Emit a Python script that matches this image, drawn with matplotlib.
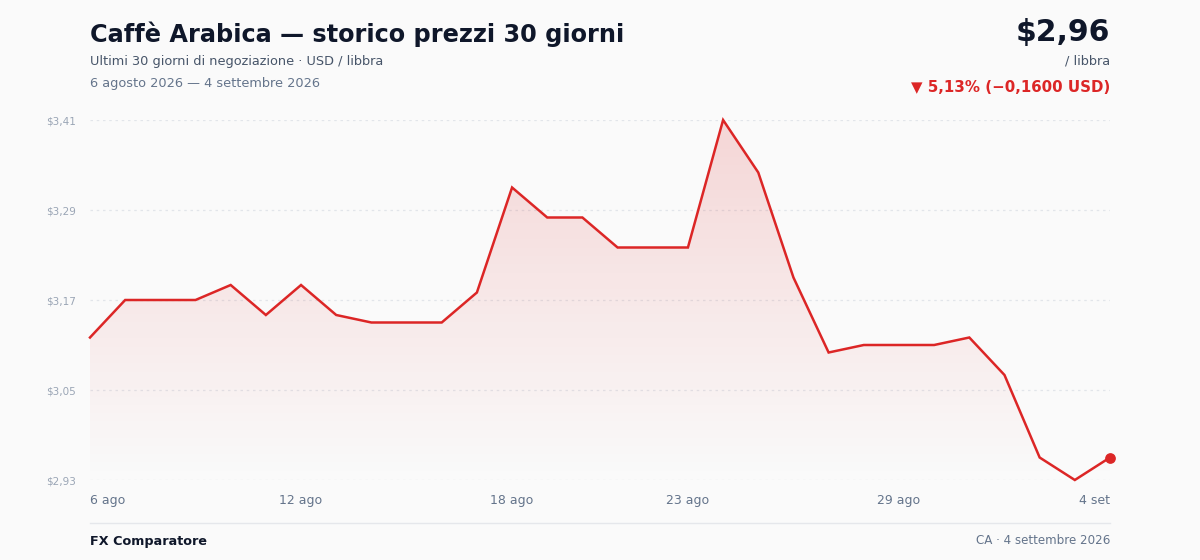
import numpy as np
import pandas as pd
import matplotlib
matplotlib.use("Agg")
import matplotlib.pyplot as plt
import matplotlib.dates as mdates
from matplotlib.patches import Polygon

plt.rcParams['font.family'] = ['DejaVu Sans']

# data
dates = pd.date_range("2026-08-06", "2026-09-04", freq="D")
prices = [3.12, 3.17, 3.17, 3.17, 3.19, 3.15, 3.19, 3.15, 3.14, 3.14,
          3.14, 3.18, 3.32, 3.28, 3.28, 3.24, 3.24, 3.24, 3.41, 3.34,
          3.20, 3.10, 3.11, 3.11, 3.11, 3.12, 3.07, 2.96, 2.93, 2.96]
y_ticks = [2.93, 3.05, 3.17, 3.29, 3.41]
x_tick_dates = ["2026-08-06", "2026-08-12", "2026-08-18", "2026-08-23", "2026-08-29", "2026-09-04"]
x_tick_labels = ["6 ago", "12 ago", "18 ago", "23 ago", "29 ago", "4 set"]

RED = "#dc2626"
BG = "#fafafa"

fig = plt.figure(figsize=(12, 5.6), dpi=100, facecolor=BG)
W, H = 1200, 560
ax = fig.add_axes([90 / W, 1 - 480 / H, 1020 / W, 360 / H])
ax.set_facecolor(BG)

x = mdates.date2num(dates)
y = np.array(prices)
ax.set_xlim(x[0], x[-1])
ax.set_ylim(y_ticks[0], y_ticks[-1])

# gradient fill under the line
grad = np.zeros((200, 2, 4))
grad[..., 0], grad[..., 1], grad[..., 2] = 0.86, 0.15, 0.15
grad[..., 3] = np.linspace(0.17, 0.0, 200)[:, None]
img = ax.imshow(grad, aspect="auto", extent=[x[0], x[-1], y_ticks[0], y_ticks[-1]],
                origin="upper", zorder=1)
poly = Polygon(np.column_stack([np.r_[x, x[-1], x[0]], np.r_[y, y_ticks[0], y_ticks[0]]]),
               closed=True, transform=ax.transData, facecolor="none", edgecolor="none")
ax.add_patch(poly)
img.set_clip_path(poly)

for t in y_ticks:
    ax.axhline(t, color="#e2e5ea", lw=0.9, ls=(0, (2, 3)), zorder=0)

ax.plot(x, y, color=RED, lw=1.8, zorder=3, clip_on=False, solid_joinstyle="miter")
ax.scatter([x[-1]], [y[-1]], s=45, color=RED, zorder=4, clip_on=False)

for s in ax.spines.values():
    s.set_visible(False)
ax.tick_params(length=0)
ax.set_yticks(y_ticks)
ax.set_yticklabels(["$" + f"{t:.2f}".replace(".", ",") for t in y_ticks],
                   fontsize=7.5, color="#9aa5b5")
ax.tick_params(axis="y", pad=10)
ax.set_xticks(mdates.date2num(pd.to_datetime(x_tick_dates)))
ax.set_xticklabels(x_tick_labels, fontsize=9, color="#64748b")
ax.tick_params(axis="x", pad=10)
lbls = ax.get_xticklabels()
lbls[0].set_ha("left")
lbls[-1].set_ha("right")

# header
fig.text(90 / W, 1 - 34 / H, "Caffè Arabica — storico prezzi 30 giorni", fontsize=17.3,
         fontweight="bold", color="#0f172a", va="center", ha="left")
fig.text(90 / W, 1 - 61 / H, "Ultimi 30 giorni di negoziazione · USD / libbra", fontsize=9.3,
         color="#475569", va="center", ha="left")
fig.text(90 / W, 1 - 83 / H, "6 agosto 2026 — 4 settembre 2026", fontsize=9.3,
         color="#64748b", va="center", ha="left")

last = prices[-1]
first = prices[0]
diff = last - first
pct = diff / first * 100
fig.text(1110 / W, 1 - 32 / H, "$" + f"{last:.2f}".replace(".", ","), fontsize=21.5,
         fontweight="bold", color="#0f172a", va="center", ha="right")
fig.text(1110 / W, 1 - 61 / H, "/ libbra", fontsize=9.3, color="#475569", va="center", ha="right")
fig.text(1110 / W, 1 - 87 / H,
         "▼ " + f"{abs(pct):.2f}".replace(".", ",") + "% (−" + f"{abs(diff):.4f}".replace(".", ",") + " USD)",
         fontsize=10.8, fontweight="bold", color=RED, va="center", ha="right")

# footer
fig.add_artist(plt.Line2D([90 / W, 1110 / W], [1 - 523 / H, 1 - 523 / H], color="#e5e7eb", lw=1))
fig.text(90 / W, 1 - 541 / H, "FX Comparatore", fontsize=9.2, fontweight="bold",
         color="#0f172a", va="center", ha="left")
fig.text(1110 / W, 1 - 541 / H, "CA · 4 settembre 2026", fontsize=8.6,
         color="#64748b", va="center", ha="right")

fig.savefig("out.png", dpi=100, facecolor=BG)
